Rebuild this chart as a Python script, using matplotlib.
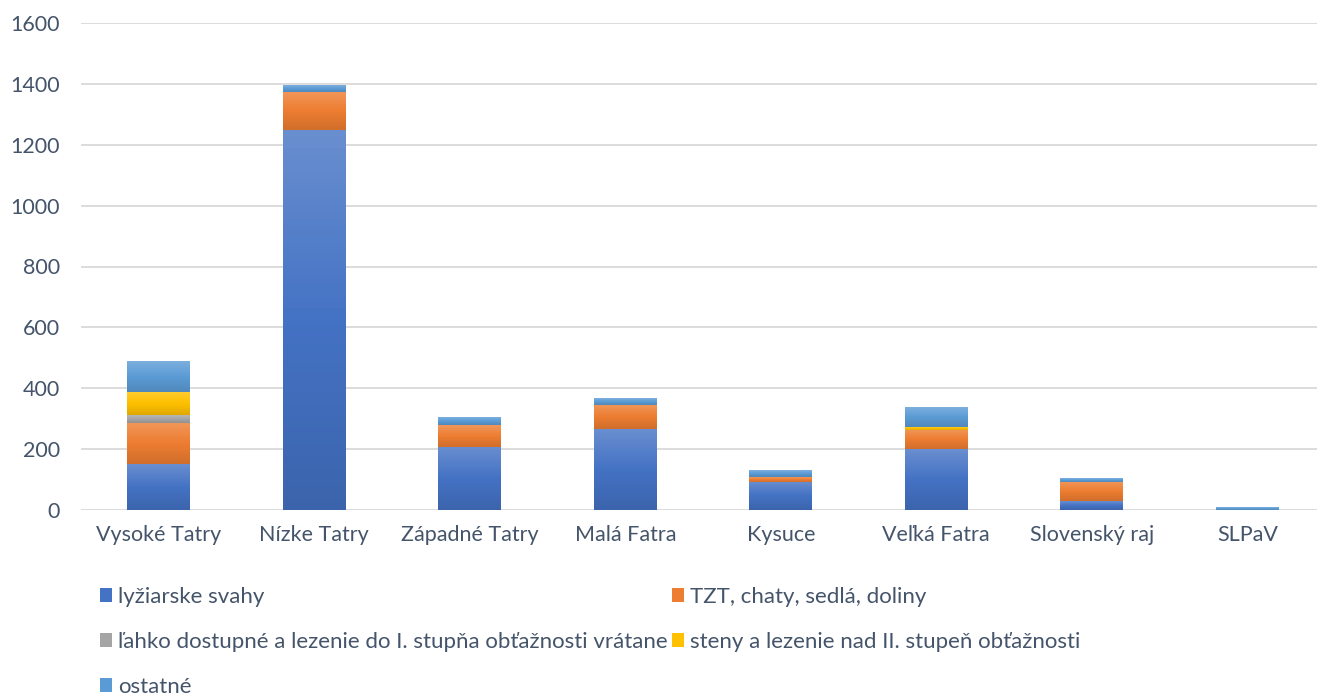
import numpy as np
import matplotlib.pyplot as plt
from matplotlib.colors import LinearSegmentedColormap, to_rgb
from matplotlib.patches import Patch

plt.rcParams['font.family'] = ['Lato', 'DejaVu Sans']

# data
regions = ['Vysoké Tatry', 'Nízke Tatry', 'Západné Tatry', 'Malá Fatra',
           'Kysuce', 'Veľká Fatra', 'Slovenský raj', 'SLPaV']
lyziarske = [151, 1248, 207, 265, 93, 200, 28, 0]
tzt = [135, 125, 72, 79, 15, 63, 63, 0]
lahko = [26, 0, 0, 0, 0, 0, 0, 0]
steny = [76, 0, 0, 2, 0, 10, 0, 0]
ostatne = [101, 20, 23, 22, 20, 65, 12, 7]

series = [
    ('lyžiarske svahy', lyziarske, '#4472C4'),
    ('TZT, chaty, sedlá, doliny', tzt, '#ED7D31'),
    ('ľahko dostupné a lezenie do I. stupňa obťažnosti vrátane', lahko, '#A5A5A5'),
    ('steny a lezenie nad II. stupeň obťažnosti', steny, '#FFC000'),
    ('ostatné', ostatne, '#5B9BD5'),
]
yticks = [0, 200, 400, 600, 800, 1000, 1200, 1400, 1600]
txt = '#44546A'
fs = 15.5


def shade(c, f):
    r = np.array(to_rgb(c))
    if f > 0:
        return tuple(r + (1 - r) * f)
    return tuple(r * (1 + f))


fig = plt.figure(figsize=(13.17, 6.95), dpi=100)
ax = fig.add_axes([81 / 1317, 185 / 695, 1236 / 1317, 487 / 695])

x = np.arange(len(regions))
w = 0.405
bottom = np.zeros(len(regions))
handles = []
for name, vals, col in series:
    vals = np.array(vals, dtype=float)
    cmap = LinearSegmentedColormap.from_list(
        name, [shade(col, -0.12), col, shade(col, 0.2)])
    grad = np.linspace(0, 1, 64).reshape(-1, 1)
    for xi, b, v in zip(x, bottom, vals):
        if v <= 0:
            continue
        ax.imshow(grad, cmap=cmap, origin='lower', aspect='auto',
                  extent=(xi - w / 2, xi + w / 2, b, b + v), zorder=3)
    bottom += vals
    handles.append(Patch(facecolor=col, label=name))

ax.set_xlim(-0.5, -0.5 + 1236 / 155.5)
ax.set_ylim(0, 1600)
ax.set_yticks(yticks)
ax.set_xticks(x)
ax.set_xticklabels(regions)
ax.yaxis.grid(True, color='#D9D9D9', lw=1.3, zorder=0)
ax.set_axisbelow(True)
for s in ax.spines.values():
    s.set_visible(False)
ax.tick_params(length=0, labelsize=fs, colors=txt)
ax.tick_params(axis='y', pad=15)
ax.tick_params(axis='x', pad=11)

order = [handles[0], handles[2], handles[4], handles[1], handles[3]]
leg = fig.legend(handles=order, ncol=2, loc='upper left',
                 bbox_to_anchor=(100 / 1317, 108 / 695), frameon=False,
                 fontsize=16, handlelength=0.55, handleheight=0.55,
                 handletextpad=0.25, columnspacing=0.2, labelspacing=1.12,
                 borderpad=0, borderaxespad=0)
for t in leg.get_texts():
    t.set_color(txt)

fig.savefig('out.png', dpi=100)
